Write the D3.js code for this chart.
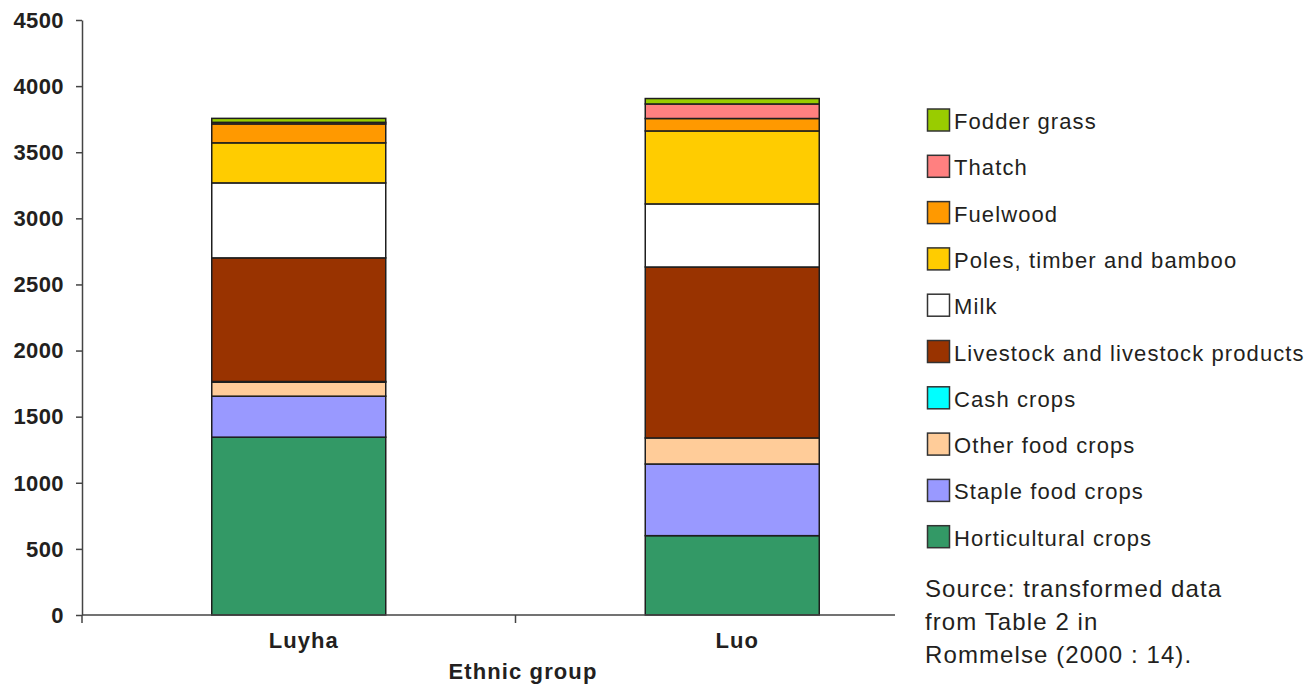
<!DOCTYPE html>
<html>
<head>
<meta charset="utf-8">
<script src="https://cdn.jsdelivr.net/npm/d3@7"></script>
<style>
  html, body { margin: 0; padding: 0; background: #fff; }
  svg { display: block; font-family: "Liberation Sans", Arial, Helvetica, sans-serif; }
</style>
</head>
<body>
<svg id="chart" width="1305" height="684"></svg>
<script>
// Ethnic groups on the x axis
const groups = ["Luyha", "Luo"];

// Stack order, bottom to top
const categories = [
  "Horticultural crops",
  "Staple food crops",
  "Other food crops",
  "Cash crops",
  "Livestock and livestock products",
  "Milk",
  "Poles, timber and bamboo",
  "Fuelwood",
  "Thatch",
  "Fodder grass"
];

// Values per category, one entry per group (Luyha, Luo)
const horticultural = [1345, 600];
const staple        = [310, 542];
const otherFood     = [106, 197];
const cash          = [5, 0];
const livestock     = [935, 1293];
const milk          = [567, 477];
const poles         = [303, 552];
const fuelwood      = [143, 94];
const thatch        = [12, 110];
const fodder        = [30, 41];

const yTicks = [0, 500, 1000, 1500, 2000, 2500, 3000, 3500, 4000, 4500];

const colors = ["#339966", "#9999ff", "#ffcc99", "#00ffff", "#993300",
                "#ffffff", "#ffcc00", "#ff9900", "#ff8080", "#99cc00"];

const seriesValues = [horticultural, staple, otherFood, cash, livestock,
                      milk, poles, fuelwood, thatch, fodder];

// Build rows for d3.stack
const rows = groups.map((g, i) => {
  const r = { group: g };
  categories.forEach((c, k) => { r[c] = seriesValues[k][i]; });
  return r;
});

const stacked = d3.stack().keys(categories)(rows);

const svg = d3.select("#chart");
const ink = "#231f20";

const plotLeft = 82, plotRight = 949, plotTop = 20, plotBottom = 615;

const x = d3.scaleBand().domain(groups).range([plotLeft, plotRight]).paddingInner(0).paddingOuter(0);
const barW = 174;
const y = d3.scaleLinear().domain([0, 4500]).range([plotBottom, plotTop]);

const color = d3.scaleOrdinal().domain(categories).range(colors);

// Bars
const layer = svg.append("g");
stacked.forEach(s => {
  layer.selectAll(null)
    .data(s)
    .enter()
    .append("rect")
    .attr("x", d => x(d.data.group) + x.bandwidth() / 2 - barW / 2)
    .attr("y", d => y(d[1]))
    .attr("width", barW)
    .attr("height", d => Math.max(0, y(d[0]) - y(d[1])))
    .attr("fill", color(s.key))
    .attr("stroke", "#1e1e1e")
    .attr("stroke-width", 1.5);
});

// Y axis
const yAxis = d3.axisLeft(y)
  .tickValues(yTicks)
  .tickFormat(d3.format("d"))
  .tickSize(6)
  .tickPadding(12)
  .tickSizeOuter(0);
const yg = svg.append("g").attr("transform", `translate(${plotLeft},0)`).call(yAxis);
yg.select(".domain").attr("stroke", "#444").attr("stroke-width", 1.5);
yg.selectAll(".tick line").attr("stroke", "#444").attr("stroke-width", 1.5);
yg.selectAll(".tick text")
  .attr("fill", ink)
  .attr("font-size", 22)
  .attr("font-weight", "bold")
  .attr("letter-spacing", 0.4)
  .attr("dy", "0.33em");

// X axis line (stops short of the legend column)
svg.append("line")
  .attr("x1", plotLeft).attr("x2", 895)
  .attr("y1", plotBottom).attr("y2", plotBottom)
  .attr("stroke", "#444").attr("stroke-width", 1.5);

// Ticks at band boundaries
const boundaries = [plotLeft, x("Luo")];
svg.selectAll(null).data(boundaries).enter().append("line")
  .attr("x1", d => d).attr("x2", d => d)
  .attr("y1", plotBottom).attr("y2", plotBottom + 8)
  .attr("stroke", "#444").attr("stroke-width", 1.5);

// Category labels
svg.selectAll(null).data(groups).enter().append("text")
  .attr("x", d => x(d) + x.bandwidth() / 2 + 5)
  .attr("y", 648)
  .attr("text-anchor", "middle")
  .attr("font-size", 22)
  .attr("font-weight", "bold")
  .attr("letter-spacing", 1)
  .attr("fill", ink)
  .text(d => d);

// Axis title
svg.append("text")
  .attr("x", 523).attr("y", 679)
  .attr("text-anchor", "middle")
  .attr("font-size", 22)
  .attr("font-weight", "bold")
  .attr("letter-spacing", 1.1)
  .attr("fill", ink)
  .text("Ethnic group");

// Legend, top entry is the top of the stack
const legendItems = categories.slice().reverse();
const lg = svg.append("g");
legendItems.forEach((c, i) => {
  const cy = 120 + i * 46.3;
  lg.append("rect")
    .attr("x", 927.5).attr("y", cy - 11)
    .attr("width", 22).attr("height", 22)
    .attr("fill", color(c))
    .attr("stroke", "#333").attr("stroke-width", 1.5);
  lg.append("text")
    .attr("x", 954).attr("y", cy + 9)
    .attr("font-size", 22)
    .attr("letter-spacing", 1.1)
    .attr("fill", ink)
    .text(c);
});

// Source note
const sourceLines = ["Source: transformed data", "from Table 2 in", "Rommelse (2000 : 14)."];
svg.selectAll(null).data(sourceLines).enter().append("text")
  .attr("x", 925)
  .attr("y", (d, i) => 597 + i * 33)
  .attr("font-size", 24)
  .attr("letter-spacing", 1.1)
  .attr("fill", ink)
  .text(d => d);
</script>
</body>
</html>
